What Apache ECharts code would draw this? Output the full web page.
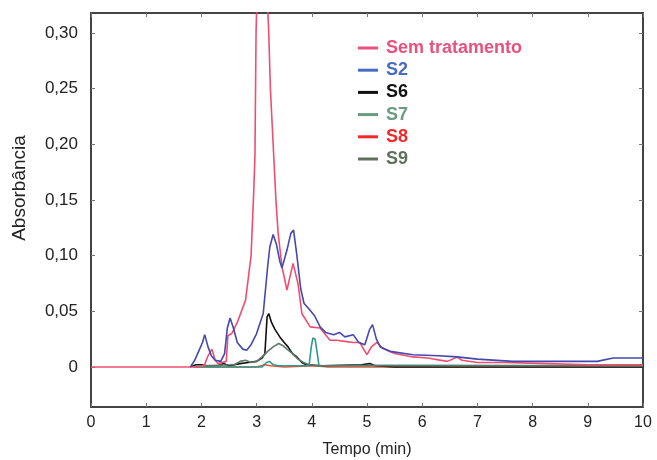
<!DOCTYPE html>
<html><head><meta charset="utf-8">
<script src="https://cdn.jsdelivr.net/npm/echarts@6/dist/echarts.min.js"></script>
<style>html,body{margin:0;padding:0;background:#fff}#c{width:657px;height:460px}</style>
</head><body><div id="c"></div>
<script>
// ---- data ----
const seriesNames = ['Sem tratamento', 'S2', 'S6', 'S7', 'S8', 'S9'];
const yTickValues = [0, 0.05, 0.10, 0.15, 0.20, 0.25, 0.30];

const semX = [0, 1.9, 2.05, 2.12, 2.19, 2.25, 2.3, 2.45, 2.48, 2.55, 2.65, 2.8, 2.9, 2.95, 2.97, 2.99, 3.02, 3.1, 3.18, 3.22, 3.25, 3.29, 3.35, 3.39, 3.46, 3.55, 3.6, 3.66, 3.75, 3.82, 3.97, 4.15, 4.33, 4.45, 4.6, 4.75, 4.87, 4.95, 5.0, 5.08, 5.18, 5.28, 5.36, 5.5, 5.83, 6.1, 6.45, 6.55, 6.63, 6.72, 7.0, 7.5, 8.26, 9.0, 10];
const semY = [0, 0, 0.001, 0.01, 0.016, 0.006, 0.003, 0.005, 0.028, 0.03, 0.04, 0.06, 0.1, 0.16, 0.19, 0.3, 0.36, 0.38, 0.35, 0.3, 0.25, 0.21, 0.15, 0.12, 0.09, 0.069, 0.08, 0.093, 0.075, 0.048, 0.036, 0.035, 0.024, 0.024, 0.023, 0.022, 0.022, 0.015, 0.011, 0.018, 0.022, 0.017, 0.015, 0.012, 0.009, 0.008, 0.005, 0.007, 0.009, 0.006, 0.004, 0.004, 0.003, 0.002, 0.002];

const s2X = [1.8, 1.88, 1.95, 2.02, 2.06, 2.12, 2.18, 2.25, 2.35, 2.42, 2.47, 2.52, 2.58, 2.65, 2.75, 2.82, 2.9, 3.0, 3.12, 3.2, 3.24, 3.3, 3.36, 3.42, 3.46, 3.55, 3.62, 3.67, 3.73, 3.8, 3.86, 3.95, 4.05, 4.15, 4.25, 4.4, 4.5, 4.6, 4.75, 4.85, 4.96, 5.05, 5.1, 5.17, 5.24, 5.42, 5.83, 6.3, 6.63, 7.0, 7.64, 9.17, 9.46, 10];
const s2Y = [0, 0.006, 0.014, 0.022, 0.029, 0.018, 0.01, 0.006, 0.005, 0.012, 0.035, 0.044, 0.035, 0.022, 0.016, 0.015, 0.02, 0.03, 0.048, 0.09, 0.108, 0.119, 0.11, 0.095, 0.089, 0.105, 0.12, 0.123, 0.1, 0.07, 0.057, 0.052, 0.046, 0.036, 0.031, 0.029, 0.031, 0.027, 0.029, 0.022, 0.02, 0.034, 0.038, 0.025, 0.018, 0.014, 0.011, 0.01, 0.009, 0.007, 0.005, 0.005, 0.008, 0.008];

const s6X = [1.8, 1.9, 2.0, 2.1, 2.3, 2.4, 2.5, 2.7, 2.85, 3.0, 3.1, 3.15, 3.19, 3.22, 3.27, 3.33, 3.42, 3.5, 3.57, 3.65, 3.73, 3.82, 3.9, 4.2, 4.9, 5.05, 5.15, 5.5, 10];
const s6Y = [0, 0.002, 0.002, 0.001, 0.001, 0.003, 0.001, 0.003, 0.004, 0.005, 0.008, 0.012, 0.045, 0.048, 0.04, 0.034, 0.027, 0.022, 0.018, 0.012, 0.009, 0.004, 0.002, 0.001, 0.002, 0.003, 0.001, 0, 0];

const s7X = [1.85, 3.1, 3.18, 3.23, 3.3, 3.4, 3.95, 3.99, 4.02, 4.06, 4.1, 4.13, 5.3, 5.8, 10];
const s7Y = [0, 0, 0.004, 0.005, 0.002, 0.001, 0.001, 0.018, 0.026, 0.025, 0.012, 0.001, 0.0015, 0.0015, 0.001];

const s8X = [1.9, 3.0, 3.15, 3.25, 3.5, 4.05, 4.3, 10];
const s8Y = [0, 0, 0.002, 0.001, 0, 0.001, 0, 0];

const s9X = [1.9, 2.0, 2.6, 2.7, 2.8, 2.9, 3.0, 3.1, 3.2, 3.3, 3.4, 3.48, 3.55, 3.65, 3.75, 3.85, 3.95, 4.1, 10];
const s9Y = [0, 0.001, 0.002, 0.005, 0.006, 0.004, 0.005, 0.009, 0.014, 0.018, 0.021, 0.019, 0.016, 0.012, 0.007, 0.004, 0.002, 0.001, 0.001];

// ---- chart ----
const lineColors = ['#ee4f70', '#4448b0', '#111111', '#2f9a8a', '#f0503a', '#5f7a68'];
const legendColors = ['#e8527c', '#4a6cc0', '#111111', '#6b9a80', '#ee2b2b', '#5f705c'];
const xs = [semX, s2X, s6X, s7X, s8X, s9X];
const ys = [semY, s2Y, s6Y, s7Y, s8Y, s9Y];
const zs = [3, 4, 2, 2, 1, 2];

const chart = echarts.init(document.getElementById('c'), null, {renderer: 'canvas'});
const font = 'Liberation Sans, Arial, Helvetica, sans-serif';
const frame = {show: true, onZero: false, lineStyle: {color: '#444', width: 2}};
const tick = {show: true, inside: true, length: 4, lineStyle: {color: '#777', width: 1}};

chart.setOption({
  animation: false,
  textStyle: {fontFamily: font},
  grid: {left: 91, right: 14, top: 13, bottom: 53, containLabel: false, outerBoundsMode: 'none'},
  legend: {
    orient: 'vertical', left: 353, top: 34, itemWidth: 20, itemHeight: 3, itemGap: 4.2,
    icon: 'rect',
    data: seriesNames.map((n, i) => ({
      name: n,
      itemStyle: {color: legendColors[i]},
      textStyle: {color: legendColors[i], fontWeight: 'bold', fontSize: 18, fontFamily: font, padding: [0, 0, 0, 3]}
    }))
  },
  xAxis: [
    {type: 'value', min: 0, max: 10, interval: 1, position: 'bottom',
     name: 'Tempo (min)', nameLocation: 'middle', nameGap: 35,
     nameTextStyle: {fontSize: 16, color: '#222', fontFamily: font},
     axisLine: frame, axisTick: tick, splitLine: {show: false},
     axisLabel: {fontSize: 16, color: '#222', margin: 8, fontFamily: font}},
    {type: 'value', min: 0, max: 10, interval: 1, position: 'top',
     axisLine: frame, axisTick: tick, splitLine: {show: false}, axisLabel: {show: false}}
  ],
  yAxis: [
    {type: 'value', min: -0.036, max: 0.318, position: 'left',
     name: 'Absorbância', nameLocation: 'middle', nameGap: 62,
     nameTextStyle: {fontSize: 19, color: '#222', fontFamily: font, padding: [0, 0, 0, 44]},
     axisLine: frame,
     axisTick: Object.assign({customValues: yTickValues}, tick),
     splitLine: {show: false},
     axisLabel: {customValues: yTickValues, fontSize: 17, color: '#222', margin: 13, fontFamily: font,
       formatter: v => v === 0 ? '0' : v.toFixed(2).replace('.', ',')}},
    {type: 'value', min: -0.036, max: 0.318, position: 'right',
     axisLine: frame,
     axisTick: Object.assign({customValues: yTickValues}, tick),
     splitLine: {show: false}, axisLabel: {show: false}}
  ],
  series: seriesNames.map((n, i) => ({
    name: n, type: 'line', showSymbol: false, symbol: 'none', clip: true, z: zs[i],
    lineStyle: {color: lineColors[i], width: 1.6},
    itemStyle: {color: lineColors[i]},
    data: xs[i].map((x, j) => [x, ys[i][j]])
  }))
});
</script></body></html>
